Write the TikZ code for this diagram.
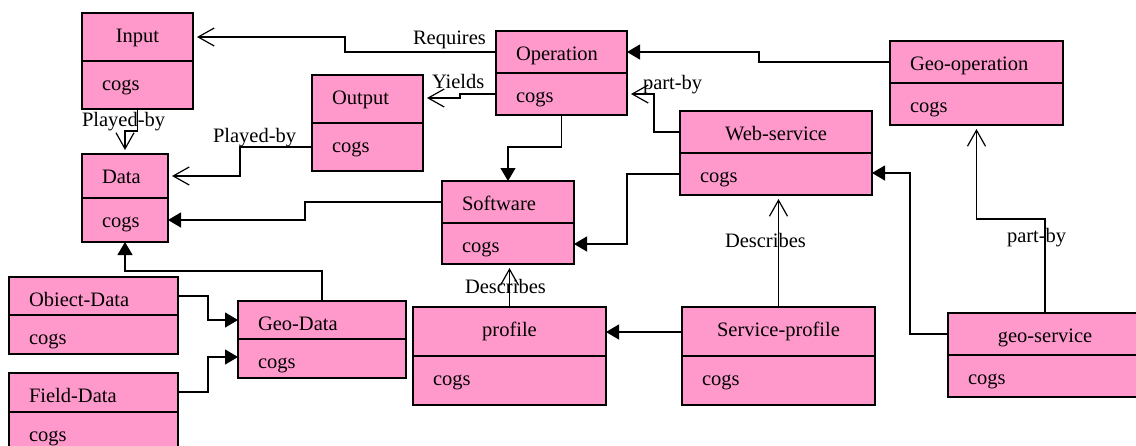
\documentclass[tikz,border=0pt]{standalone}
\usepackage{fontspec}
\setmainfont{Liberation Serif}
\usetikzlibrary{arrows.meta}

\definecolor{classpink}{RGB}{255,153,204}

\tikzset{
  classframe/.style={draw=black, fill=classpink, line width=1.5pt,
    inner sep=0pt, outer sep=0pt, rectangle},
  classrule/.style={draw=black, line width=1.5pt},
  classtext/.style={inner sep=0pt, outer sep=0pt,
    font=\fontsize{20.5}{24}\selectfont},
  lbl/.style={classtext},
  link/.style={draw=black, line width=1.2pt},
  openhead/.style={link, -{Straight Barb[length=16pt,width=18pt,line width=1.2pt]}, shorten >=4pt},
  solidhead/.style={link, -{Triangle[length=13pt,width=15pt]}}
}

% #1 name, #2 left, #3 top, #4 right, #5 divider, #6 bottom, #7 title, #8 c = centred title, l = left
\newcommand\classbox[8]{%
  \pgfmathsetmacro\boxw{#4-#2}%
  \pgfmathsetmacro\boxh{#6-#3}%
  \node[classframe, minimum width=\boxw pt, minimum height=\boxh pt, anchor=north west] (#1) at (#2,#3) {};
  \draw[classrule] (#1.west |- 0,#5) -- (#1.east |- 0,#5);
  \if#8c
    \node[classtext, anchor=base] (#1-title) at ({(#2+#4)/2},{#3+29}) {#7};
  \else
    \node[classtext, anchor=base west] (#1-title) at ({#2+20},{#3+29}) {#7};
  \fi
  \node[classtext, anchor=base west] (#1-attr) at ({#2+20},{#5+29}) {cogs};
}

\begin{document}
\begin{tikzpicture}[x=1pt,y=-1pt]
\path[use as bounding box, clip] (0,0) rectangle (1136,445);
\fill[white] (0,0) rectangle (1136,445);

% classes
\classbox{input}{82}{13}{193}{61}{109}{Input}{c}
\classbox{data}{82}{154}{168}{198}{242}{Data}{l}
\classbox{output}{312}{75}{423}{123}{171}{Output}{l}
\classbox{operation}{496}{31}{627}{73}{115}{Operation}{l}
\classbox{software}{442}{181}{574}{223}{264}{Software}{l}
\classbox{webservice}{680}{111}{872}{153}{195}{Web-service}{c}
\classbox{geooperation}{890}{41}{1063}{83}{125}{Geo-operation}{l}
\classbox{objectdata}{9}{277}{178}{315}{354}{Obiect-Data}{l}
\classbox{fielddata}{9}{373}{178}{412}{450}{Field-Data}{l}
\classbox{geodata}{238}{301}{406}{339}{378}{Geo-Data}{l}
\classbox{profile}{413}{307}{606}{356}{405}{profile}{c}
\classbox{serviceprofile}{682}{307}{875}{356}{405}{Service-profile}{c}
\classbox{geoservice}{948}{313}{1142}{355}{397}{geo-service}{c}

% associations
\draw[openhead] (operation.west |- 0,52) -- (345,52) |- (input.east |- 0,37);
\draw[openhead] (operation.west |- 0,94) -- (460,94) -- (460,98) -- (output.east |- 0,98);
\draw[openhead] (input.south) -- ++(0,22) -| (data.north);
\draw[openhead] (output.west |- 0,147) -- (240,147) |- (data.east |- 0,176);
\draw[openhead] (webservice.west |- 0,132) -- (654,132) |- (operation.east |- 0,94);
\draw[openhead] (serviceprofile.north) -- (serviceprofile.north |- webservice.south);
\draw[openhead] (profile.north) -- (profile.north |- software.south);
\draw[openhead] (geoservice.north) -- ++(0,-94) -| (geooperation.south);

% generalisations
\draw[solidhead] (software.west |- 0,202) -- (305,202) |- (data.east |- 0,220);
\draw[solidhead] (operation.south) -- ++(0,32) -| (software.north);
\draw[solidhead] (webservice.west |- 0,174) -- (627,174) |- (software.east |- 0,244);
\draw[solidhead] (geooperation.west |- 0,62) -- (759,62) |- (operation.east |- 0,52);
\draw[solidhead] (serviceprofile.west |- 0,332) -- (profile.east |- 0,332);
\draw[solidhead] (geoservice.west |- 0,334) -- (910,334) |- (webservice.east |- 0,173);
\draw[solidhead] (objectdata.east |- 0,296) -- (208,296) |- (geodata.west |- 0,320);
\draw[solidhead] (fielddata.east |- 0,392) -- (208,392) |- (geodata.west |- 0,357);
\draw[solidhead] (geodata.north -| 322,0) -- (322,271) -| (data.south);

% role labels
\node[lbl, anchor=base west] (l-requires) at (413,44) {Requires};
\node[lbl, anchor=base west] (l-yields) at (432,88) {Yields};
\node[lbl, anchor=base west] (l-played1) at (82,126) {Played-by};
\node[lbl, anchor=base west] (l-played2) at (213,142) {Played-by};
\node[lbl, anchor=base west] (l-partby1) at (643,89) {part-by};
\node[lbl, anchor=base west] (l-describes1) at (725,247) {Describes};
\node[lbl, anchor=base west] (l-describes2) at (465,293) {Describes};
\node[lbl, anchor=base west] (l-partby2) at (1007,242) {part-by};
\end{tikzpicture}
\end{document}
